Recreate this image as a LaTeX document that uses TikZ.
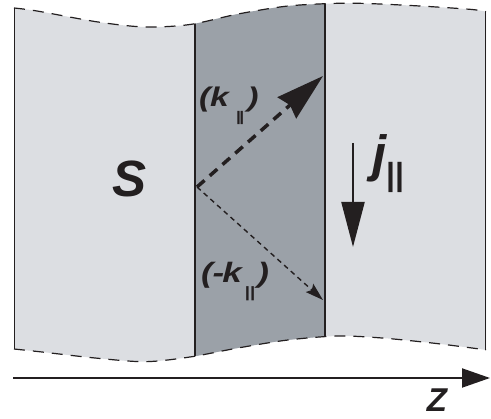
\documentclass[tikz,border=0pt]{standalone}
\usepackage{fontspec}
\setmainfont{Liberation Sans}
\newfontfamily\kfont[FakeStretch=1.25]{Liberation Sans}
\usetikzlibrary{arrows.meta}
\definecolor{lightgr}{RGB}{220,222,226}
\definecolor{darkgr}{RGB}{155,161,168}
\definecolor{ink}{RGB}{35,31,32}
\tikzset{
  lbl/.style={inner sep=0pt, outer sep=0pt, text=ink},
  bigfont/.style={font=\fontsize{51}{51}\selectfont\bfseries\itshape},
  midfont/.style={font=\kfont\fontsize{27}{27}\selectfont\bfseries\itshape},
  midfontb/.style={font=\kfont\fontsize{28}{28}\selectfont\bfseries\itshape},
  zfont/.style={font=\fontsize{33}{33}\selectfont\bfseries\itshape},
  edgeline/.style={draw=ink, line width=2.5pt},
  interline/.style={draw=ink, line width=1.3pt},
  boundary/.style={draw=ink, line width=1.2pt, dash pattern=on 11pt off 8pt},
  thickdash/.style={draw=ink, line width=3.5pt, dash pattern=on 10pt off 7pt,
    -{Stealth[length=48pt,width=28pt,inset=4pt]}},
  thindash/.style={draw=ink, line width=1.4pt, dash pattern=on 5pt off 4pt,
    -{Stealth[length=18pt,width=11pt,inset=3pt]}},
  solidarrow/.style={draw=ink, line width=2.2pt, -{Triangle[length=45pt,width=23pt]}},
  axisarrow/.style={draw=ink, line width=2pt, -{Triangle[length=28pt,width=19pt]}}
}
\begin{document}
\begin{tikzpicture}[x=1pt,y=-1pt]
\useasboundingbox (0,0) rectangle (491,419);
% region fill
\fill[lightgr] plot[smooth] coordinates {(14,8) (37,11) (98,22) (145,27) (190,24.5) (238,14) (288,6) (338,3.3) (372,3.7) (425,6.3) (472,9.5) (486,11.7)}
  -- plot[smooth] coordinates {(486,350) (472,348) (432,343) (382,338) (338,336) (288,340) (238,348) (190,357) (145,361.7) (95,358) (42,352) (14,349)} -- cycle;
\begin{scope}
  \clip plot[smooth] coordinates {(14,8) (37,11) (98,22) (145,27) (190,24.5) (238,14) (288,6) (338,3.3) (372,3.7) (425,6.3) (472,9.5) (486,11.7)}
  -- plot[smooth] coordinates {(486,350) (472,348) (432,343) (382,338) (338,336) (288,340) (238,348) (190,357) (145,361.7) (95,358) (42,352) (14,349)} -- cycle;
  \fill[darkgr] (195,-10) rectangle (325,380);
  \coordinate (l1) at (14,-10); \coordinate (l2) at (14,380);
  \coordinate (m1) at (195,-10); \coordinate (m2) at (195,380);
  \coordinate (n1) at (325,-10); \coordinate (n2) at (325,380);
  \coordinate (r1) at (486,-10); \coordinate (r2) at (486,380);
  \path[edgeline] (l1) -- (l2);
  \path[edgeline] (r1) -- (r2);
  \path[interline] (m1) -- (m2);
  \path[interline] (n1) -- (n2);
\end{scope}
% dashed boundaries
\path[boundary] plot[smooth] coordinates {(14,8) (37,11) (98,22) (145,27) (190,24.5) (238,14) (288,6) (338,3.3) (372,3.7) (425,6.3) (472,9.5) (486,11.7)};
\path[boundary] plot[smooth] coordinates {(14,349) (42,352) (95,358) (145,361.7) (190,357) (238,348) (288,340) (338,336) (382,338) (432,343) (472,348) (486,350)};
% labels
\node[lbl, bigfont] (S) at (130,179) {S};
\node[lbl, midfont, anchor=base west] (kp) at (199,107) {(k\kern7pt\raisebox{-15pt}{\fontsize{14}{14}\selectfont\upshape|\kern-1.5pt|}\kern3pt)};
\node[lbl, midfontb, anchor=base west] (km) at (201,283) {(-\kern-2pt k\kern3pt\raisebox{-15pt}{\fontsize{15}{15}\selectfont\upshape||}\kern2pt)};
\node[lbl, bigfont, anchor=base west] (j) at (372,172) {j\raisebox{-13.4pt}{\fontsize{32}{32}\selectfont\upshape||}};
\node[lbl, zfont] (z) at (437,400) {Z};
% wave vectors
\coordinate (o) at (197,187);
\coordinate (kt) at (323,76);
\coordinate (kb) at (323,300);
\path[thickdash] (o) -- (kt);
\path[thindash] (o) -- (kb);
% current
\coordinate (jt) at (353,143);
\coordinate (jb) at (353,247);
\path[solidarrow] (jt) -- (jb);
% axis
\coordinate (a0) at (13,378);
\coordinate (a1) at (490,378);
\path[axisarrow] (a0) -- (a1);
\end{tikzpicture}
\end{document}
